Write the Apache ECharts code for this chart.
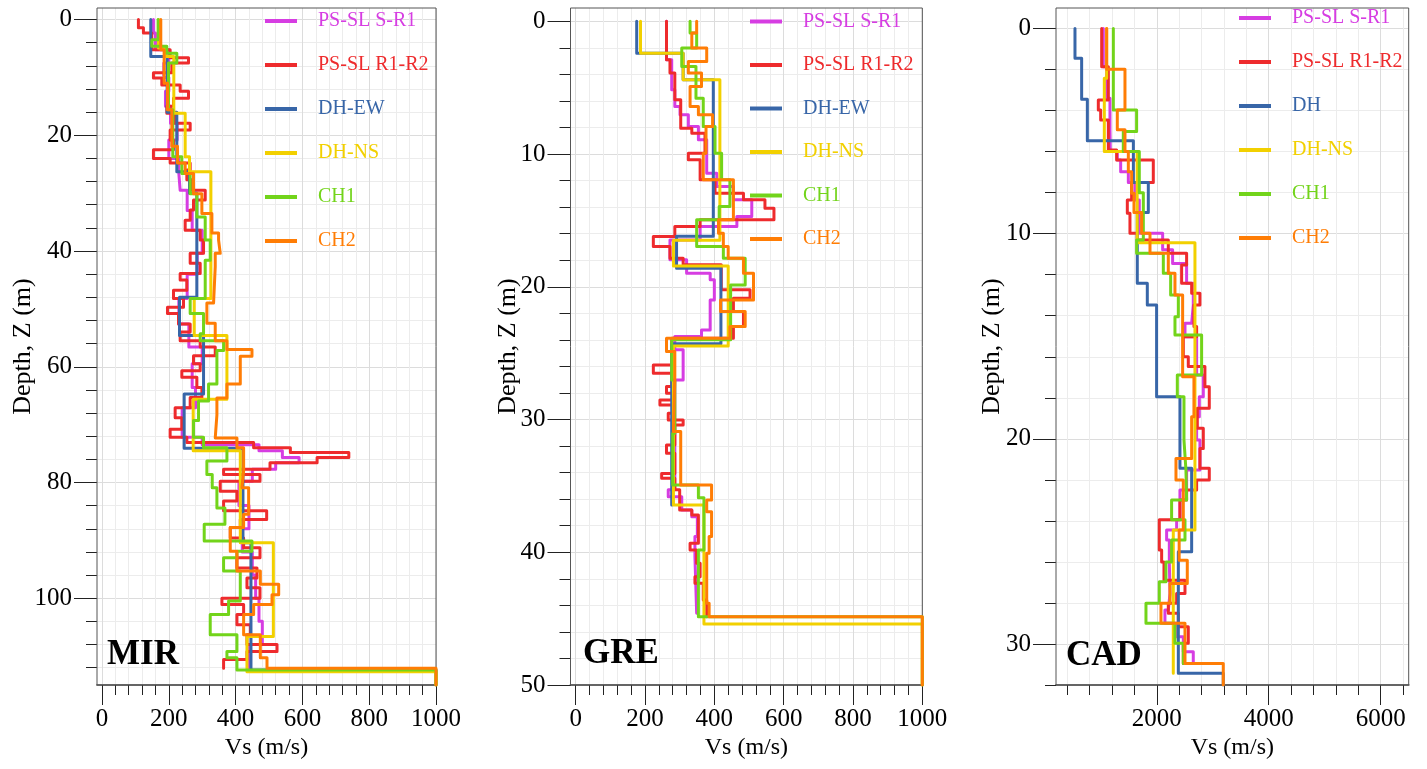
<!DOCTYPE html>
<html><head><meta charset="utf-8">
<script src="https://cdn.jsdelivr.net/npm/echarts@6/dist/echarts.min.js"></script>
<style>html,body{margin:0;padding:0;background:#fff}#c{width:1427px;height:769px}</style>
</head><body><div id="c"></div>
<script>
// ---------- names / colours ----------
const NAMES_DH = ['PS-SL S-R1','PS-SL R1-R2','DH-EW','DH-NS','CH1','CH2'];
const NAMES_CAD = ['PS-SL S-R1','PS-SL R1-R2','DH','DH-NS','CH1','CH2'];
const COLORS = ['#d63de2','#ee2b2d','#3866a8','#f2d000','#72d41a','#ff7d05'];

// ---------- MIR: layer boundaries (m) and Vs (m/s) ----------
const MIR_SR1_D = [0,2.3,5.2,7.5,10,12.4,15,17.9,20.8,24,26.6,29.5,33,36.4,40.4,44,48.2,52.6,56.6,59.5,63.6,67.1,72.2,73.5,74.5,75.7,76.6,77.7,79.8,84,88,92,96,100,104,108,112.2];
const MIR_SR1_V = [154,160,200,185,200,190,205,225,200,230,234,255,270,300,285,255,230,260,300,270,280,240,300,470,540,590,520,450,410,440,420,450,460,470,480,440];
const MIR_RR_D = [0,1.4,2.3,5.2,6.6,7.5,9.2,10.1,11.3,12.4,13.6,15.0,16.2,17.9,19.1,20.8,22.5,24.0,24.8,26.0,27.7,29.5,31.2,32.9,34.7,36.4,38.1,40.4,42.1,43.9,45.0,46.8,48.2,49.7,50.8,52.6,54.0,55.5,56.6,58.1,59.5,60.7,61.8,63.6,65.3,67.1,68.8,70.8,72.2,73.1,74.0,74.8,75.7,76.6,77.7,78.6,79.8,81.5,83.2,84.9,86.4,87.8,89.6,91.3,93.0,94.8,96.5,98.2,100.0,101.1,102.8,104.6,106.3,108.0,109.2,110.6,112.1];
const MIR_RR_V = [109,124,149,204,259,209,154,179,234,259,214,194,219,264,204,214,154,204,264,254,269,309,274,264,249,294,304,264,294,234,254,214,244,196,229,264,234,294,339,274,294,239,284,299,264,219,239,204,254,454,564,739,644,503,364,473,354,404,364,493,414,384,424,473,404,464,434,473,359,424,404,444,434,524,434,364];
const MIR_EW_D = [0,6.4,16,26.3,30,48,54.6,64.7,74.1,90.4,112.4,115];
const MIR_EW_V = [146,195,224,262,284,232,304,246,422,446,1000];
const MIR_NS_D = [0,4.9,6.4,16.2,23.7,26.3,48.2,54.6,65.6,74.5,90.4,106.6,112.7,115];
const MIR_NS_V = [169,190,215,249,262,326,276,374,273,414,513,434,1000];
const MIR_CH1_D = [0,3.5,4.6,5.8,7.5,15.6,23.7,26.6,30.1,34.1,38.1,41.6,48.2,50.8,54.3,55.5,57.2,63.0,65.9,69.3,72.2,74.0,76.3,78.6,80.9,84.4,87.2,90.1,91.9,93.0,95.3,100.5,102.8,106.3,109.2,110.3,112.4,115];
const MIR_CH1_V = [168,149,194,224,199,212,239,264,284,309,324,309,264,304,294,364,344,319,289,274,304,374,314,330,344,368,306,449,404,364,414,379,324,404,374,404,1000];
const MIR_CH2_D = [0,5.2,11,15.6,21.9,24.8,26.6,30.1,33.5,36.9,38.1,40.4,42.7,49,52.5,55.5,57,58.2,63,65.4,68.3,72.3,74,78,80.9,85.5,87.8,91.9,95.3,97.6,99.4,101.1,102.8,106.3,110.3,112.1,115];
const MIR_CH2_V = [176,186,196,209,226,249,274,299,329,349,354,339,334,314,339,374,449,414,374,344,339,404,424,419,439,424,384,404,474,529,509,454,424,474,494,1000];

// ---------- GRE ----------
const GRE_SR1_D = [0,2.90,5.16,6.42,7.05,7.92,8.93,11.44,12.45,13.45,14.71,15.46,16.47,17.97,18.98,19.48,20.99,23.25,23.75,24.75,27.02,35.30,35.81,36.81,37.32,38.82,40.33,44.60];
const GRE_SR1_V = [262,277,286,301,325,354,378,407,455,508,465,359,272,320,388,400,388,363,286,310,286,267,306,335,351,344,349];
const GRE_RR_D = [0,2.90,3.90,5.92,8.05,8.43,9.94,10.44,11.94,12.95,13.45,14.08,14.96,15.46,16.22,16.97,17.85,18.35,20.23,20.86,21.87,23.0,23.88,25.89,26.52,27.52,28.03,28.53,28.90,29.53,30.03,30.41,31.92,32.55,34.06,34.43,35.30,36.81,37.19,39.32,39.83,40.83,41.84,42.34,43.60,44.85];
const GRE_RR_V = [262,272,286,303,335,373,325,359,402,484,546,572,359,286,224,272,310,420,503,455,484,455,277,224,277,262,282,243,282,267,310,286,262,286,248,286,300,335,354,330,349,359,344,368,378];
const GRE_EW_D = [0,2.4,4.4,16.2,18.6,24.3,36.44];
const GRE_EW_V = [176,310,397,291,419,277];
const GRE_NS_D = [0,2.4,4.4,16.5,18.43,24.46,36.44,45.4,50];
const GRE_NS_V = [187,310,416,282,440,282,370,1000];
const GRE_CH1_D = [0,0.89,2.02,3.40,5.79,7.92,9.94,11.94,13.95,14.96,16.97,17.85,19.86,24.0,27.02,31.04,34.93,35.9,39.83,44.85,50];
const GRE_CH1_V = [330,349,306,347,368,402,421,445,414,349,426,489,447,277,286,280,354,370,354,1000];
const GRE_CH2_D = [0,0.89,2.02,3.03,3.90,4.91,6.42,7.05,7.92,9.94,11.94,14.96,15.97,16.97,17.85,18.98,20.99,21.87,23.0,23.88,24.88,26.77,30.91,34.94,36.06,36.94,38.82,40.08,43.85,44.85,50];
const GRE_CH2_V = [349,335,378,325,363,330,354,395,376,368,455,412,426,440,484,513,418,489,445,262,286,282,303,392,378,392,385,378,385,1000];

// ---------- CAD ----------
const CAD_SR1_D = [0,1.86,3.40,4.94,6.0,6.41,6.98,7.51,8.36,9.98,10.79,11.45,12.42,13.48,14.37,15.02,16.89,17.95,18.92,20.06,21.52,22.49,23.95,24.44,24.93,26.0,27.54,28.35,28.99,29.65,30.38,30.95];
const CAD_SR1_V = [1045,1105,1164,1170,1295,1355,1492,1610,1688,2105,2283,2533,2652,2623,2504,2712,2831,2760,2712,2771,2533,2414,2355,2176,2224,2236,2206,2146,2355,2474,2652];
const CAD_RR_D = [0,1.86,3.48,3.97,4.46,5.92,6.41,7.51,8.36,9.01,9.98,10.31,10.96,11.53,12.42,12.91,13.48,14.53,15.02,16.0,16.48,17.46,18.51,19.49,20.47,21.44,22.01,22.49,22.98,23.95,25.42,26.0,26.89,27.54,28.02,28.5,29.16,29.97,30.95];
const CAD_RR_V = [1016,1135,956,998,1135,1283,1938,1551,1474,1521,1650,2206,2533,2444,2623,2771,2664,2712,2474,2563,2860,2938,2724,2831,2771,2938,2712,2533,2414,2045,2087,2129,2504,2355,2206,2385,2563,2474];
const CAD_DH_D = [0,1.45,3.45,5.47,7.51,8.97,12.42,13.48,17.95,21.44,25.5,31.43,32];
const CAD_DH_V = [539,658,760,1582,1849,1652,1831,1997,2414,2623,2385,3188];
const CAD_NS_D = [0,2.43,6.0,10.44,24.44,31.43];
const CAD_NS_V = [1105,1063,1650,2682,2295];
const CAD_CH1_D = [0,3.97,5.02,6.0,8.0,10.31,10.96,11.93,12.99,14.05,14.94,16.89,17.95,20.06,21.52,22.98,23.95,24.93,26.0,26.97,28.02,28.99,29.97,30.95];
const CAD_CH1_V = [1224,1640,1402,1688,1760,1640,2117,2248,2385,2325,2801,2367,2486,2521,2533,2265,2504,2265,2164,2045,1807,2325,2474];
const CAD_CH2_D = [0,1.99,3.97,4.94,6.0,6.98,8.03,8.97,9.98,10.96,11.93,12.99,16.97,18.92,20.96,22.01,24.44,25.92,27.05,28.02,28.99,30.95,32];
const CAD_CH2_V = [1105,1432,1295,1432,1492,1551,1593,1730,1879,2206,2325,2462,2664,2623,2343,2474,2400,2545,2236,2075,2504,3188];

// ---------- axis ranges / ticks ----------
const MIR_X = [-15,1000], MIR_Y = [-2,115];
const GRE_X = [-15,1000], GRE_Y = [-1,50];
const CAD_X = [200,6500], CAD_Y = [-1,32];

const FONT = '"Liberation Serif","Times New Roman",serif';

const panels = [
  {label:'MIR', L:97, R:436, T:8, B:685, xr:MIR_X, yr:MIR_Y,
   xMinor:[0,1000,40], xMajor:[0,1000,200], yMinor:[0,112,4], yMajor:[0,100,20], xDarkOff:0,
   names:NAMES_DH, data:[[MIR_SR1_D,MIR_SR1_V],[MIR_RR_D,MIR_RR_V],[MIR_EW_D,MIR_EW_V],[MIR_NS_D,MIR_NS_V],[MIR_CH1_D,MIR_CH1_V],[MIR_CH2_D,MIR_CH2_V]],
   legend:{left:265, top:11, gap:24}, lab:{x:107, y:672}, yGap:61},
  {label:'GRE', L:570.5, R:922.3, T:8, B:685, xr:GRE_X, yr:GRE_Y,
   xMinor:[0,1000,40], xMajor:[0,1000,200], yMinor:[0,50,2], yMajor:[0,50,10], xDarkOff:0,
   names:NAMES_DH, data:[[GRE_SR1_D,GRE_SR1_V],[GRE_RR_D,GRE_RR_V],[GRE_EW_D,GRE_EW_V],[GRE_NS_D,GRE_NS_V],[GRE_CH1_D,GRE_CH1_V],[GRE_CH2_D,GRE_CH2_V]],
   legend:{left:750, top:11.5, gap:23.5}, lab:{x:583, y:671}, yGap:49},
  {label:'CAD', L:1056, R:1408.7, T:8, B:685, xr:CAD_X, yr:CAD_Y,
   xMinor:[400,6400,400], xMajor:[2000,6000,2000], yMinor:[0,32,2], yMajor:[0,30,10], xDarkOff:4,
   names:NAMES_CAD, data:[[CAD_SR1_D,CAD_SR1_V],[CAD_RR_D,CAD_RR_V],[CAD_DH_D,CAD_DH_V],[CAD_NS_D,CAD_NS_V],[CAD_CH1_D,CAD_CH1_V],[CAD_CH2_D,CAD_CH2_V]],
   legend:{left:1239, top:8, gap:24}, lab:{x:1066, y:673}, yGap:51}
];

function steps(D, V){
  const pts = [];
  for (let i = 0; i < V.length; i++){ pts.push([V[i], D[i]]); pts.push([V[i], D[i+1]]); }
  return pts;
}
function rect(p, xa, ya){
  const sx = (p.R-p.L)/(p.xr[1]-p.xr[0]), sy = (p.B-p.T)/(p.yr[1]-p.yr[0]);
  const a = xa || p.xr, c = ya || p.yr;
  return {left:p.L+(a[0]-p.xr[0])*sx, width:(a[1]-a[0])*sx, top:p.T+(c[0]-p.yr[0])*sy, height:(c[1]-c[0])*sy, containLabel:false};
}
function cyc(n, off){ const a=[]; for(let i=0;i<5;i++) a.push(i===off?'#dcdcdc':'#ececec'); return a; }
const hid = {show:false};
const noLine = {show:false, onZero:false};
const TICKC = '#222';
const fmt = v => String(v);

const grid=[], xAxis=[], yAxis=[], series=[], legend=[], graphic=[];
panels.forEach((p, pi) => {
  const b = grid.length;
  // A: frame + series
  grid.push(Object.assign(rect(p), {show:true, borderColor:'#555', borderWidth:1, backgroundColor:'transparent', z:1}));
  xAxis.push({type:'value', gridIndex:b, min:p.xr[0], max:p.xr[1], position:'bottom',
    axisLine:{show:true, onZero:false, lineStyle:{color:'#777', width:2}}, axisTick:hid, axisLabel:hid, splitLine:hid,
    name:'Vs (m/s)', nameLocation:'middle', nameGap:51, nameTextStyle:{fontFamily:FONT, fontSize:24, color:'#000'}});
  yAxis.push({type:'value', gridIndex:b, min:p.yr[0], max:p.yr[1], inverse:true, position:'left', axisLine:noLine, axisTick:hid, axisLabel:hid, splitLine:hid,
    name:'Depth, Z (m)', nameLocation:'middle', nameGap:p.yGap, nameRotate:90, nameTextStyle:{fontFamily:FONT, fontSize:26, color:'#000'}});
  // X minor (vertical grid lines + short ticks)
  grid.push(rect(p, p.xMinor.slice(0,2), null));
  xAxis.push({type:'value', gridIndex:b+1, min:p.xMinor[0], max:p.xMinor[1], interval:p.xMinor[2], position:'bottom', axisLine:noLine,
    axisTick:{show:true, length:10, lineStyle:{color:TICKC}}, axisLabel:hid,
    splitLine:{show:true, lineStyle:{color:cyc(5,p.xDarkOff), width:1}}});
  yAxis.push({type:'value', gridIndex:b+1, min:p.yr[0], max:p.yr[1], inverse:true, show:false, axisLine:noLine});
  // X major (long ticks + labels)
  grid.push(rect(p, p.xMajor.slice(0,2), null));
  xAxis.push({type:'value', gridIndex:b+2, min:p.xMajor[0], max:p.xMajor[1], interval:p.xMajor[2], position:'bottom', axisLine:noLine,
    axisTick:{show:true, length:20, lineStyle:{color:TICKC}},
    axisLabel:{show:true, margin:22, fontFamily:FONT, fontSize:25, color:'#000', interval:0, showMinLabel:true, showMaxLabel:true, formatter:fmt},
    splitLine:hid});
  yAxis.push({type:'value', gridIndex:b+2, min:p.yr[0], max:p.yr[1], inverse:true, show:false, axisLine:noLine});
  // Y minor (horizontal grid lines + short ticks)
  grid.push(rect(p, null, p.yMinor.slice(0,2)));
  xAxis.push({type:'value', gridIndex:b+3, min:p.xr[0], max:p.xr[1], show:false, axisLine:noLine});
  yAxis.push({type:'value', gridIndex:b+3, min:p.yMinor[0], max:p.yMinor[1], interval:p.yMinor[2], inverse:true, position:'left', axisLine:noLine,
    axisTick:{show:true, length:11, lineStyle:{color:TICKC}}, axisLabel:hid,
    splitLine:{show:true, lineStyle:{color:cyc(5,0), width:1}}});
  // Y major
  grid.push(rect(p, null, p.yMajor.slice(0,2)));
  xAxis.push({type:'value', gridIndex:b+4, min:p.xr[0], max:p.xr[1], show:false, axisLine:noLine});
  yAxis.push({type:'value', gridIndex:b+4, min:p.yMajor[0], max:p.yMajor[1], interval:p.yMajor[2], inverse:true, position:'left', axisLine:noLine,
    axisTick:{show:true, length:23, lineStyle:{color:TICKC}},
    axisLabel:{show:true, margin:25, fontFamily:FONT, fontSize:25, color:'#000', interval:0, showMinLabel:true, showMaxLabel:true, formatter:fmt},
    splitLine:hid});

  p.data.forEach((dv, k) => {
    series.push({type:'line', name:p.names[k], xAxisIndex:b, yAxisIndex:b, data:steps(dv[0], dv[1]),
      symbol:'none', showSymbol:false, silent:true, animation:false, z:2+k,
      lineStyle:{width:3, color:COLORS[k], join:'round', cap:'round'}, itemStyle:{color:COLORS[k]}});
  });
  legend.push({orient:'vertical', left:p.legend.left, top:p.legend.top, padding:0, icon:'rect', itemWidth:32, itemHeight:4, itemGap:p.legend.gap,
    selectedMode:false,
    data:p.names.map((n,k)=>({name:n, textStyle:{color:COLORS[k]}})),
    textStyle:{fontFamily:FONT, fontSize:20, lineHeight:20, padding:[0,0,0,16]}});
  graphic.push({type:'text', x:p.lab.x, y:p.lab.y, z:10,
    style:{text:p.label, font:'bold 35px ' + FONT, fill:'#000', verticalAlign:'bottom', align:'left'}});
});

const chart = echarts.init(document.getElementById('c'), null, {renderer:'canvas'});
chart.setOption({animation:false, backgroundColor:'#fff', grid, xAxis, yAxis, series, legend, graphic});
</script>
</body></html>
